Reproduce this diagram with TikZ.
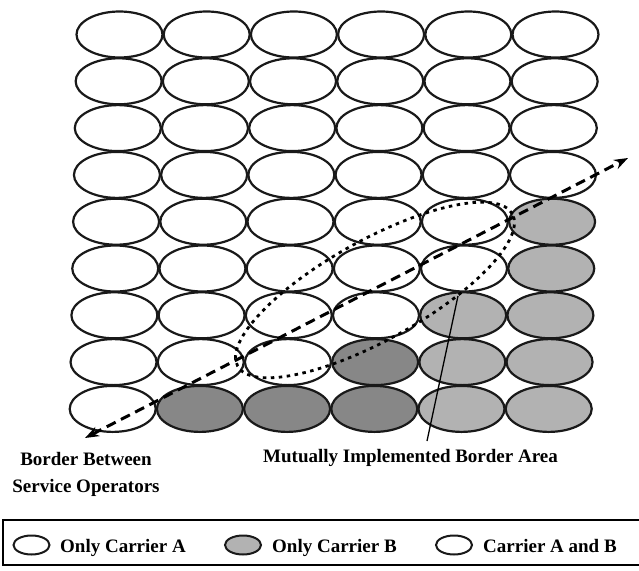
\documentclass[tikz,border=0pt]{standalone}
\usepackage{fontspec}
\setmainfont{Liberation Serif}
\usetikzlibrary{shapes.geometric,arrows.meta}
\usepackage{xcolor}
\definecolor{cellDark}{gray}{0.53}
\definecolor{cellLight}{gray}{0.70}

\begin{document}
\begin{tikzpicture}[
    x=1pt, y=-1pt,
    every node/.style={font=\fontsize{19}{27}\selectfont\bfseries},
    cell/.style={ellipse, draw=black!90, line width=2.2pt,
      minimum width=86pt, minimum height=46pt, inner sep=0pt},
    dark cell/.style={fill=cellDark},
    light cell/.style={fill=cellLight},
    key cell/.style={ellipse, draw=black!90, line width=2pt,
      minimum width=36pt, minimum height=19pt, inner sep=0pt},
    border line/.style={line width=3pt, dash pattern=on 10pt off 6pt,
      {Stealth[length=14pt,width=10pt]}-{Stealth[length=14pt,width=10pt]}},
    area line/.style={line width=2.8pt, dash pattern=on 3.5pt off 4.5pt},
    % shaded cells (row-column, counted from the top left)
    cellfill 8-1/.style={dark cell}, cellfill 8-2/.style={dark cell},
    cellfill 8-3/.style={dark cell}, cellfill 7-3/.style={dark cell},
    cellfill 8-4/.style={light cell}, cellfill 8-5/.style={light cell},
    cellfill 7-4/.style={light cell}, cellfill 7-5/.style={light cell},
    cellfill 6-4/.style={light cell}, cellfill 6-5/.style={light cell},
    cellfill 5-5/.style={light cell}, cellfill 4-5/.style={light cell},
  ]
  \useasboundingbox (0,0) rectangle (639,570);

  % --- Grid of cells: 9 rows, 6 columns ---
  \foreach \r in {0,...,8} {
    \foreach \c in {0,...,5} {
      \node[cell, cellfill \r-\c/.try] (c-\r-\c)
        at ({119.5+87.2*\c-0.85*\r}, {34.5+46.8*\r}) {};
    }
  }

  % --- Mutually implemented border area ---
  \draw[area line, rotate around={29:(375,290)}]
    (375,290) ellipse [x radius=157pt, y radius=50pt];
  \coordinate (area tip) at (458,296);
  \coordinate (area foot) at (427,441);
  \draw[line width=1.3pt] (area tip) -- (area foot);

  % --- Border between service operators ---
  \coordinate (border sw) at (85,438);
  \coordinate (border ne) at (628,158);
  \draw[border line] (border sw) -- (border ne);

  % --- Labels ---
  \node[align=center] (border label) at (86,474)
    {Border Between\\Service Operators};
  \node[anchor=base west, inner sep=0pt] (area label) at (263,462)
    {Mutually Implemented Border Area};

  % --- Legend ---
  \draw[line width=1.6pt] (3,520) rectangle (642,565);
  \node[key cell] (key A) at (31.5,545) {};
  \node[key cell, light cell] (key B) at (243,545) {};
  \node[key cell] (key AB) at (454,545) {};
  \node[anchor=base west, inner sep=0pt] (key A text) at (60,552)
    {Only Carrier A};
  \node[anchor=base west, inner sep=0pt] (key B text) at (272,552)
    {Only Carrier B};
  \node[anchor=base west, inner sep=0pt] (key AB text) at (483,552)
    {Carrier A and B};

\end{tikzpicture}
\end{document}
